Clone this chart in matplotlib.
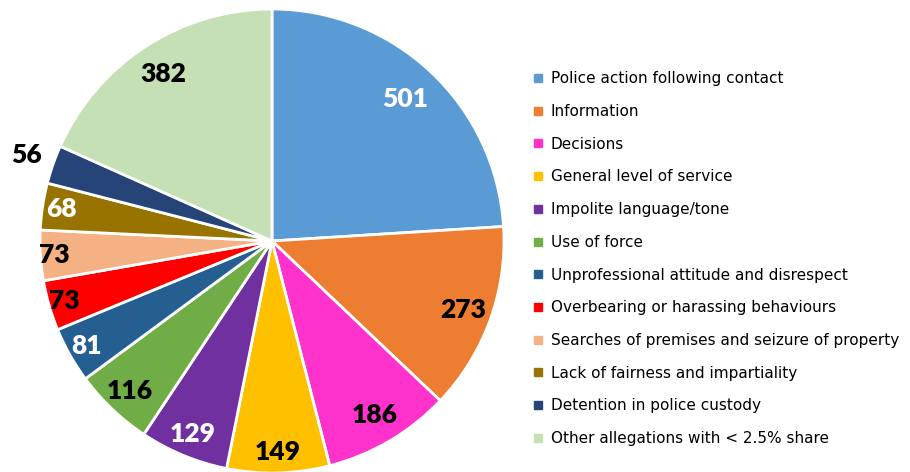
import numpy as np
import matplotlib
matplotlib.use("Agg")
from matplotlib import pyplot as plt
from matplotlib.lines import Line2D

categories = [
    "Police action following contact",
    "Information",
    "Decisions",
    "General level of service",
    "Impolite language/tone",
    "Use of force",
    "Unprofessional attitude and disrespect",
    "Overbearing or harassing behaviours",
    "Searches of premises and seizure of property",
    "Lack of fairness and impartiality",
    "Detention in police custody",
    "Other allegations with < 2.5% share",
]
counts = [501, 273, 186, 149, 129, 116, 81, 73, 73, 68, 56, 382]

colors = ["#5B9BD5", "#ED7D31", "#FF33CC", "#FFC000", "#7030A0", "#70AD47",
          "#255E91", "#FF0000", "#F4B183", "#997300", "#264478", "#C5E0B4"]
label_colors = ["white", "black", "black", "black", "white", "black",
                "white", "black", "black", "white", "black", "black"]
# radial position of each value label (fraction of radius)
label_r = [0.84, 0.875, 0.87, 0.91, 0.90, 0.89, 0.92, 0.93, 0.94, 0.92, 1.12, 0.86]

fig = plt.figure(figsize=(9.1, 4.72), dpi=100)
ax = fig.add_axes([40 / 910, -1 / 472, 464 / 910, 464 / 472])

wedges, _ = ax.pie(counts, colors=colors, startangle=90, counterclock=False,
                   radius=1.0, wedgeprops=dict(edgecolor="white", linewidth=2))
ax.set_xlim(-1, 1)
ax.set_ylim(-1, 1)
ax.set_aspect("equal")

for w, val, c, r in zip(wedges, counts, label_colors, label_r):
    mid = np.deg2rad((w.theta1 + w.theta2) / 2)
    ax.text(r * np.cos(mid), r * np.sin(mid), str(val), ha="center", va="center",
            color=c, fontsize=19, fontweight="heavy", family="Lato", clip_on=False)

handles = [Line2D([], [], marker="s", linestyle="none", markersize=6,
                  markerfacecolor=col, markeredgecolor=col) for col in colors]
fig.legend(handles, categories, loc="upper left", bbox_to_anchor=(0.580, 0.862),
           frameon=False, fontsize=11, labelspacing=1.16, handlelength=0.6,
           handletextpad=0.5, borderaxespad=0)

fig.savefig("out.png", dpi=100)
